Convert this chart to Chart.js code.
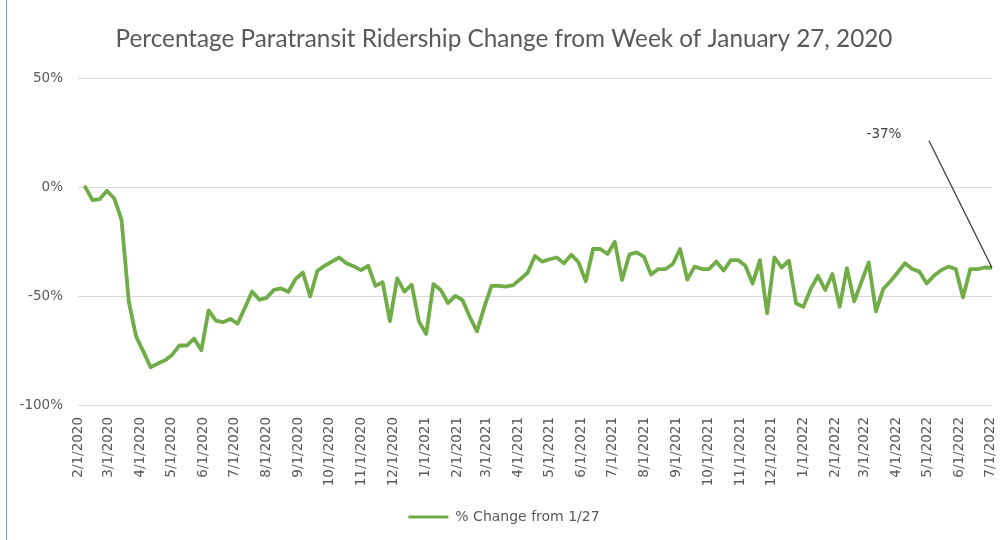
<!DOCTYPE html>
<html>
<head>
<meta charset="utf-8">
<script src="https://cdn.jsdelivr.net/npm/chart.js@4.4.1/dist/chart.umd.min.js"></script>
<style>
    body { margin: 0; background: #fff; }
    #wrap { position: relative; width: 1000px; height: 540px; }
    #edge { position: absolute; left: 6px; top: 0; width: 1px; height: 540px; background: #6f9fd8; }
</style>
</head>
<body>
<div id="wrap">
    <canvas id="grafico" width="1000" height="540"></canvas>
    <div id="edge"></div>
</div>
<script>
// etiquetas del eje X (primer dia de cada mes)
var etiquetasMes = ["2/1/2020", "3/1/2020", "4/1/2020", "5/1/2020", "6/1/2020", "7/1/2020",
    "8/1/2020", "9/1/2020", "10/1/2020", "11/1/2020", "12/1/2020", "1/1/2021", "2/1/2021",
    "3/1/2021", "4/1/2021", "5/1/2021", "6/1/2021", "7/1/2021", "8/1/2021", "9/1/2021",
    "10/1/2021", "11/1/2021", "12/1/2021", "1/1/2022", "2/1/2022", "3/1/2022", "4/1/2022",
    "5/1/2022", "6/1/2022", "7/1/2022"];

// primera semana graficada
var primeraSemana = "2/8/2020";

// % de cambio semanal respecto a la semana del 27 de enero
var cambioSemanal = [
    0, -6, -5.5, -1.7, -5.2, -15, -52.5, -68.5, -75.4, -82.7,
    -81, -79.5, -76.9, -72.6, -72.7, -69.5, -74.9, -56.6, -61.3, -62,
    -60.5, -62.7, -55.5, -47.9, -51.7, -50.8, -47.2, -46.5, -48, -42.2,
    -39.2, -50.2, -38.4, -36.1, -34.2, -32.3, -34.9, -36.3, -38.1, -36.1,
    -45.3, -43.7, -61.5, -41.9, -48, -44.8, -61.7, -67.4, -44.5, -47.2,
    -53.2, -49.9, -51.8, -59.5, -66.2, -55.2, -45.3, -45.3, -45.7, -45,
    -42.2, -39.2, -31.6, -34.2, -33.1, -32.3, -35, -31, -34.5, -43.2,
    -28.4, -28.4, -30.7, -25.1, -42.6, -31, -29.9, -31.9, -40.1, -37.6,
    -37.6, -35.3, -28.4, -42.4, -36.5, -37.6, -37.6, -34.2, -38.3, -33.5,
    -33.5, -36.1, -44.2, -33.5, -57.9, -32.3, -36.9, -33.8, -53.4, -54.9,
    -46.8, -40.7, -47.2, -39.9, -54.9, -37.2, -52.4, -43.5, -34.6, -57,
    -46.8, -43.2, -39.2, -34.9, -37.6, -38.8, -44.2, -40.7, -38.1, -36.5,
    -37.6, -50.6, -37.6, -37.6, -36.9, -37
];

var ticksY = [50, 0, -50, -100];

var verde = "#70AD47";
var gris = "#595959";

function diaDesdeInicio(fecha) {
    var p = fecha.split("/");
    var base = Date.UTC(2020, 1, 1);
    return Math.round((Date.UTC(+p[2], +p[0] - 1, +p[1]) - base) / 86400000);
}

var diasMes = etiquetasMes.map(diaDesdeInicio);
var inicio = diaDesdeInicio(primeraSemana);
var puntos = cambioSemanal.map(function (v, i) {
    return { x: inicio + i * 7, y: v };
});

Chart.defaults.font.family = "'DejaVu Sans', Verdana, sans-serif";
Chart.defaults.font.size = 13.5;
Chart.defaults.color = gris;

var anotacion = {
    id: "anotacion",
    afterDatasetsDraw: function (chart) {
        var meta = chart.getDatasetMeta(0);
        var ultimo = meta.data[meta.data.length - 1];
        var ctx = chart.ctx;
        ctx.save();
        ctx.strokeStyle = "#303030";
        ctx.lineWidth = 1.2;
        ctx.beginPath();
        ctx.moveTo(ultimo.x - 63, ultimo.y - 127);
        ctx.lineTo(ultimo.x, ultimo.y);
        ctx.stroke();
        ctx.fillStyle = "#404040";
        ctx.font = "13.5px 'DejaVu Sans', Verdana, sans-serif";
        ctx.textAlign = "center";
        ctx.textBaseline = "middle";
        ctx.fillText(Math.round(cambioSemanal[cambioSemanal.length - 1]) + "%", ultimo.x - 108, ultimo.y - 133);
        ctx.restore();
    }
};

var ctx = document.getElementById("grafico").getContext("2d");
window.myLine = new Chart(ctx, {
    type: "line",
    data: {
        datasets: [{
            label: "% Change from 1/27",
            data: puntos,
            borderColor: verde,
            backgroundColor: verde,
            borderWidth: 3.8,
            borderJoinStyle: "round",
            borderCapStyle: "round",
            pointRadius: 0,
            tension: 0
        }]
    },
    options: {
        responsive: false,
        animation: false,
        layout: { padding: { left: 16, right: 8, top: 0, bottom: 6 } },
        plugins: {
            title: {
                display: true,
                text: "Percentage Paratransit Ridership Change from Week of January 27, 2020",
                color: gris,
                font: { family: "Lato, 'Open Sans', sans-serif", size: 24.3, weight: "normal" },
                padding: { top: 25, bottom: 24 }
            },
            legend: {
                position: "bottom",
                labels: {
                    boxWidth: 40,
                    boxHeight: 3,
                    color: gris,
                    font: { size: 14 },
                    generateLabels: function (chart) {
                        return Chart.defaults.plugins.legend.labels.generateLabels(chart).map(function (l) {
                            l.lineWidth = 0;
                            l.fillStyle = verde;
                            return l;
                        });
                    }
                }
            },
            tooltip: { enabled: false }
        },
        scales: {
            x: {
                type: "linear",
                min: 0,
                max: inicio + (cambioSemanal.length - 1) * 7,
                grid: { display: false },
                border: { display: false },
                afterBuildTicks: function (axis) {
                    axis.ticks = diasMes.map(function (d) { return { value: d }; });
                },
                afterFit: function (axis) {
                    axis.height = 95;
                    axis.paddingLeft = 0;
                    axis.paddingRight = 0;
                },
                ticks: {
                    autoSkip: false,
                    minRotation: 90,
                    maxRotation: 90,
                    padding: 4,
                    callback: function (value, index) { return etiquetasMes[index]; }
                }
            },
            y: {
                min: -100,
                max: 50,
                grid: { color: "#D9D9D9", drawTicks: false },
                border: { display: false },
                afterBuildTicks: function (axis) {
                    axis.ticks = ticksY.map(function (v) { return { value: v }; });
                },
                afterFit: function (axis) { axis.width = 62; },
                ticks: {
                    padding: 15,
                    callback: function (value) { return value + "%"; }
                }
            }
        }
    },
    plugins: [anotacion]
});
</script>
</body>
</html>
